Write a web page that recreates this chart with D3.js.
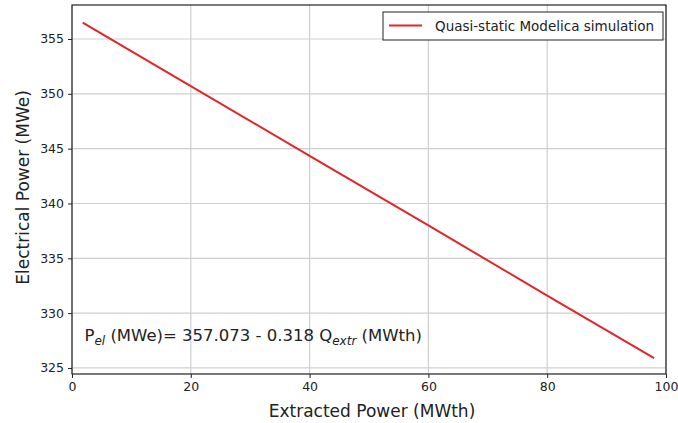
<!DOCTYPE html>
<html>
<head>
<meta charset="utf-8">
<script src="https://cdn.jsdelivr.net/npm/d3@7"></script>
<style>
  body { margin: 0; background: #fff; }
  text { font-family: "DejaVu Sans", sans-serif; fill: #222; }
</style>
</head>
<body>
<svg width="678" height="423"></svg>
<script>
// values
const extractedPower = [1.8, 20, 40, 60, 80, 98];          // MWth
const electricalPower = [356.5, 350.7, 344.35, 338.0, 331.6, 325.9]; // MWe
const xTicks = [0, 20, 40, 60, 80, 100];
const yTicks = [325, 330, 335, 340, 345, 350, 355];
const seriesName = "Quasi-static Modelica simulation";

const svg = d3.select("svg");
const margin = { top: 5, right: 12, bottom: 49, left: 72 };
const width = +svg.attr("width") - margin.left - margin.right;
const height = +svg.attr("height") - margin.top - margin.bottom;

const x = d3.scaleLinear().domain([0, 100]).range([0, width]);
const y = d3.scaleLinear().domain([324.45, 358.1]).range([height, 0]);

const g = svg.append("g").attr("transform", `translate(${margin.left},${margin.top})`);

// grid
g.append("g").selectAll("line").data(xTicks).enter().append("line")
    .attr("x1", d => x(d)).attr("x2", d => x(d))
    .attr("y1", 0).attr("y2", height)
    .attr("stroke", "#cfcfcf").attr("stroke-width", 1.2);
g.append("g").selectAll("line").data(yTicks).enter().append("line")
    .attr("x1", 0).attr("x2", width)
    .attr("y1", d => y(d)).attr("y2", d => y(d))
    .attr("stroke", "#cfcfcf").attr("stroke-width", 1.2);

// axes
const xAxis = g.append("g")
    .attr("transform", `translate(0,${height})`)
    .call(d3.axisBottom(x).tickValues(xTicks).tickSize(4).tickPadding(4));
const yAxis = g.append("g")
    .call(d3.axisLeft(y).tickValues(yTicks).tickSize(4).tickPadding(4));
[xAxis, yAxis].forEach(a => {
    a.select(".domain").remove();
    a.selectAll("line").attr("stroke", "#222");
    a.selectAll("text").style("font-size", "12.5px").attr("fill", "#333");
});

// frame
g.append("rect")
    .attr("width", width).attr("height", height)
    .attr("fill", "none").attr("stroke", "#222").attr("stroke-width", 1.2);

// series
const pts = extractedPower.map((q, i) => [q, electricalPower[i]]);
g.append("path")
    .datum(pts)
    .attr("fill", "none")
    .attr("stroke", "#e3242b")
    .attr("stroke-width", 2)
    .attr("d", d3.line().x(d => x(d[0])).y(d => y(d[1])));

// equation
const eq = g.append("text")
    .attr("x", x(2.1)).attr("y", y(327.5))
    .style("font-size", "16.5px");
eq.append("tspan").text("P");
eq.append("tspan").attr("dy", 4).style("font-size", "12px").style("font-style", "italic").text("el");
eq.append("tspan").attr("dy", -4).text(" (MWe)= 357.073 - 0.318 Q");
eq.append("tspan").attr("dy", 4).style("font-size", "12px").style("font-style", "italic").text("extr");
eq.append("tspan").attr("dy", -4).text(" (MWth)");

// legend
const lg = g.append("g").attr("transform", `translate(${width - 283},7)`);
lg.append("rect").attr("width", 280).attr("height", 28)
    .attr("fill", "#fff").attr("stroke", "#222").attr("stroke-width", 1);
lg.append("line").attr("x1", 6).attr("x2", 39).attr("y1", 13.5).attr("y2", 13.5)
    .attr("stroke", "#e3242b").attr("stroke-width", 2);
lg.append("text").attr("x", 52).attr("y", 18.5).style("font-size", "13.5px").text(seriesName);

// labels
svg.append("text")
    .attr("x", margin.left + width / 2 + 3).attr("y", 417)
    .attr("text-anchor", "middle").style("font-size", "17px")
    .text("Extracted Power (MWth)");
svg.append("text")
    .attr("transform", `translate(29,${margin.top + height / 2 - 2}) rotate(-90)`)
    .attr("text-anchor", "middle").style("font-size", "17px")
    .text("Electrical Power (MWe)");
</script>
</body>
</html>
